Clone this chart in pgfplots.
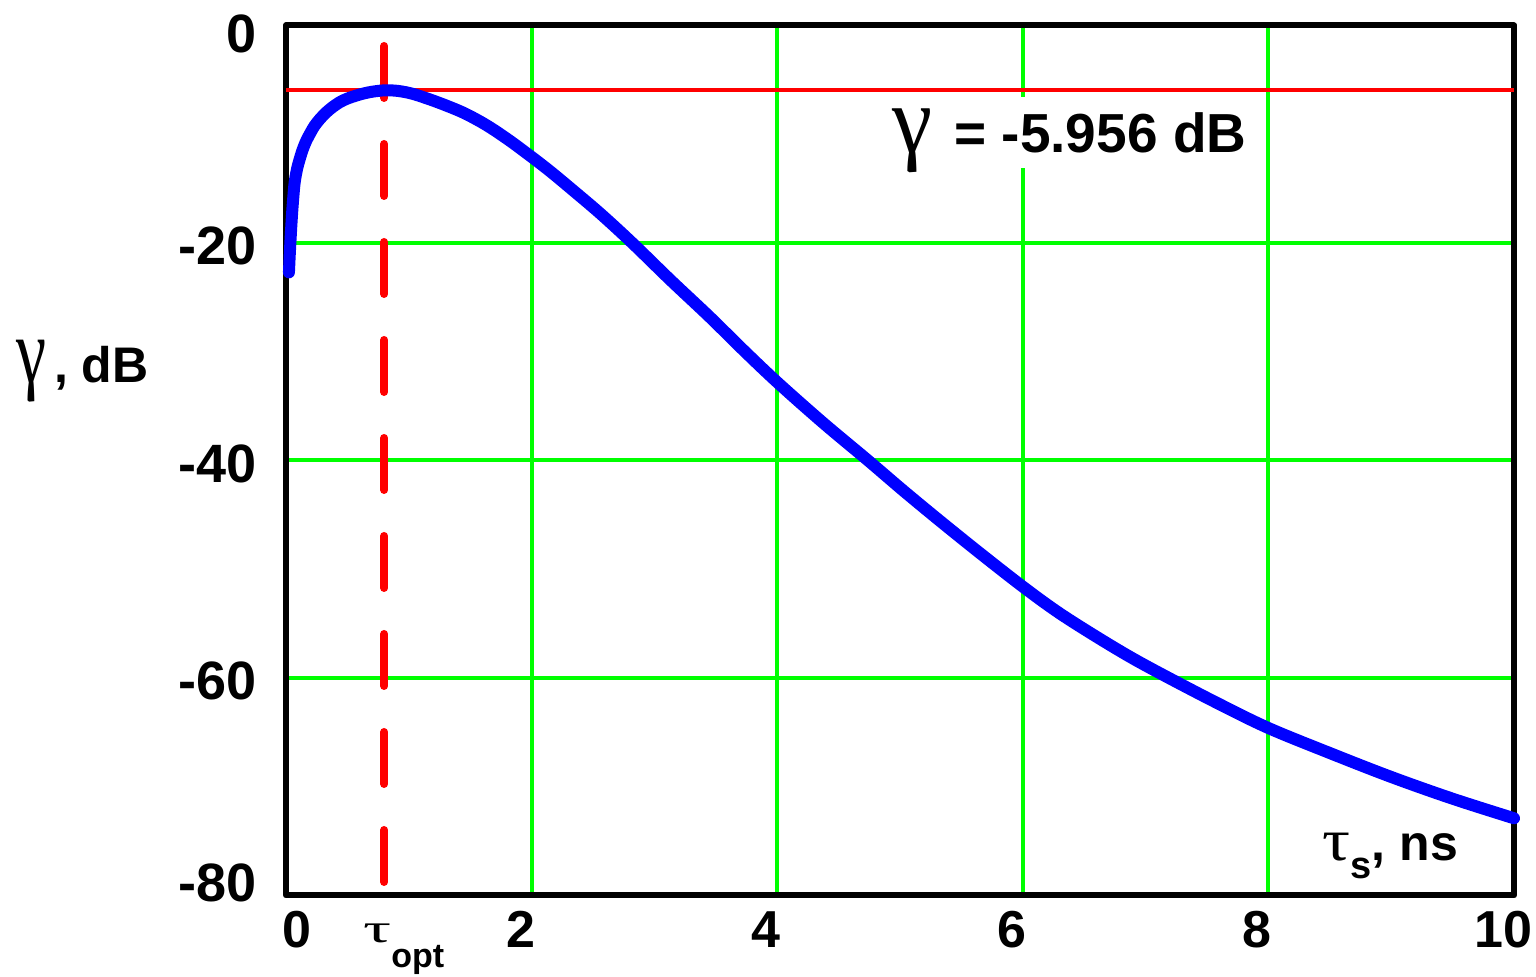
\documentclass[border=0pt]{standalone}
\usepackage{fontspec}
\setmainfont{Liberation Sans}
\newfontfamily\grk{Liberation Serif}
\usepackage{graphicx}
\usepackage{pgfplots}
\pgfplotsset{compat=1.18}
\definecolor{gridgreen}{RGB}{0,255,0}
\definecolor{cblue}{RGB}{0,0,255}
\definecolor{cred}{RGB}{255,0,0}
\newcommand{\G}[2]{\resizebox*{#1}{#2}{\grk γ}}
\newcommand{\T}[2]{\resizebox*{#1}{#2}{\grk τ}}
\begin{document}
\begin{tikzpicture}
\begin{axis}[
 name=ax, scale only axis, width=614pt, height=435pt,
 xmin=0, xmax=10, ymin=-80, ymax=0,
 axis line style={line width=3pt, line join=round, black},
 xtick={2,4,6,8}, xticklabels={2,4,6,8},
 extra x ticks={0,10}, extra x tick labels={\hspace*{22pt}0,10},
 extra x tick style={grid=none},
 ytick={-60,-40,-20}, yticklabels={-60,-40,-20},
 extra y ticks={-80,0}, extra y tick labels={\raisebox{7.75pt}{-80},\raisebox{-2.75pt}{0}},
 extra y tick style={grid=none},
 xmajorgrids, ymajorgrids,
 major grid style={gridgreen, line width=2pt},
 major tick length=0pt,
 tick style={draw=none},
 xticklabel style={font=\fontsize{26}{26}\selectfont\bfseries, anchor=base, inner sep=0pt, yshift=-26.25pt, xshift=-5.5pt},
 yticklabel style={font=\fontsize{27}{27}\selectfont\bfseries, anchor=base east, inner sep=0pt, xshift=-14.5pt, yshift=-11pt},
 clip=false,
]
\addplot[cred, line width=2pt] coordinates {(0,-5.956) (10,-5.956)};
\addplot[cred, line width=4pt, line cap=round, dash pattern=on 26pt off 23pt, dash phase=38.75pt] coordinates {(0.8,0) (0.8,-80)};
\addplot[cblue, line width=6pt, line cap=round, line join=round, smooth, tension=0.55] coordinates {
(0.024,-22.7) (0.030,-21.2) (0.036,-19.9) (0.044,-18.3) (0.052,-16.9) (0.061,-15.6) (0.071,-14.4)
(0.09,-13.2) (0.112,-12.27) (0.138,-11.35) (0.166,-10.58) (0.20,-9.85) (0.234,-9.2) (0.28,-8.55)
(0.329,-7.98) (0.38,-7.5) (0.437,-7.06) (0.50,-6.72) (0.573,-6.44) (0.64,-6.23) (0.708,-6.08)
(0.78,-5.98) (0.83,-5.956) (0.92,-6.03) (1.034,-6.29) (1.197,-6.9) (1.28,-7.25) (1.45,-8.05)
(1.63,-9.15) (1.81,-10.5) (1.99,-12.0) (2.15,-13.4) (2.31,-14.9)
(2.56,-17.3) (2.82,-20.0) (3.13,-23.4) (3.45,-26.8) (3.72,-29.8) (4.0,-32.8) (4.37,-36.5) (4.74,-40.0) (5.03,-42.8) (5.33,-45.6)
(5.66,-48.6) (6.0,-51.6) (6.28,-53.9) (6.57,-56.0) (6.88,-58.1) (7.19,-60.0) (7.6,-62.4) (8.0,-64.6) (8.5,-66.9) (9.0,-69.1) (9.5,-71.1) (10.0,-72.9)
};
\node[anchor=base west, inner sep=0pt, fill=white, text height=28pt, text depth=7.5pt, inner xsep=4pt]
  at (axis cs:4.87,-11.72) {\G{20pt}{32pt}\hspace{11pt}\fontsize{27.5}{27.5}\selectfont\bfseries = -5.956 dB};
\node[anchor=base west, inner sep=0pt] at (axis cs:-2.2,-32.87)
  {\G{15pt}{31pt}\hspace{4pt}\fontsize{25}{25}\selectfont\bfseries, dB};
\node[anchor=base west, inner sep=0pt] at (axis cs:8.44,-76.74)
  {\T{14pt}{14pt}\raisebox{-9pt}{\fontsize{19}{19}\selectfont\bfseries s}\fontsize{25}{25}\selectfont\bfseries, ns};
\node[anchor=base west, inner sep=0pt] at ([yshift=-23.75pt]axis cs:0.627,-80)
  {\T{14pt}{9.5pt}\raisebox{-12.5pt}{\fontsize{17}{17}\selectfont\bfseries opt}};
\end{axis}
\pgfresetboundingbox
\path ([shift={(-143pt,-40.75pt)}]ax.south west) rectangle ([shift={(11pt,12.75pt)}]ax.north east);
\end{tikzpicture}
\end{document}
